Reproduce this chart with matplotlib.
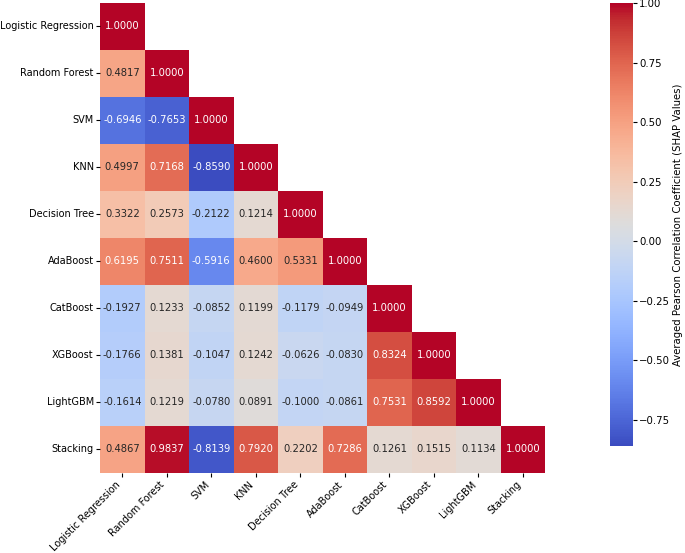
import numpy as np
import matplotlib
matplotlib.use("Agg")
import matplotlib.pyplot as plt
import seaborn as sns

models = ["Logistic Regression", "Random Forest", "SVM", "KNN", "Decision Tree",
          "AdaBoost", "CatBoost", "XGBoost", "LightGBM", "Stacking"]

# lower-triangle rows of the averaged SHAP correlation matrix
row_lr = [1.0000]
row_rf = [0.4817, 1.0000]
row_svm = [-0.6946, -0.7653, 1.0000]
row_knn = [0.4997, 0.7168, -0.8590, 1.0000]
row_dt = [0.3322, 0.2573, -0.2122, 0.1214, 1.0000]
row_ada = [0.6195, 0.7511, -0.5916, 0.4600, 0.5331, 1.0000]
row_cat = [-0.1927, 0.1233, -0.0852, 0.1199, -0.1179, -0.0949, 1.0000]
row_xgb = [-0.1766, 0.1381, -0.1047, 0.1242, -0.0626, -0.0830, 0.8324, 1.0000]
row_lgbm = [-0.1614, 0.1219, -0.0780, 0.0891, -0.1000, -0.0861, 0.7531, 0.8592, 1.0000]
row_stack = [0.4867, 0.9837, -0.8139, 0.7920, 0.2202, 0.7286, 0.1261, 0.1515, 0.1134, 1.0000]

rows = [row_lr, row_rf, row_svm, row_knn, row_dt, row_ada, row_cat, row_xgb, row_lgbm, row_stack]

n = len(models)
corr = np.eye(n)
for i, r in enumerate(rows):
    for j, v in enumerate(r):
        corr[i, j] = v
        corr[j, i] = v

mask = np.triu(np.ones_like(corr, dtype=bool), k=1)

fig = plt.figure(figsize=(6.85, 5.53), dpi=100)
ax = fig.add_axes([0.146, 0.1447, 0.650, 0.850])
cax = fig.add_axes([0.8905, 0.1935, 0.0335, 0.801])

sns.heatmap(corr, mask=mask, cmap="coolwarm", annot=True, fmt=".4f",
            annot_kws={"fontsize": 7.2}, xticklabels=models, yticklabels=models,
            ax=ax, cbar_ax=cax,
            cbar_kws={"label": "Averaged Pearson Correlation Coefficient (SHAP Values)"})

# text colour: white on saturated cells, dark grey elsewhere
for t in ax.texts:
    v = float(t.get_text())
    t.set_color("white" if abs(v) > 0.55 else "#262626")

ax.set_xticklabels(models, rotation=45, ha="right", fontsize=7.0)
ax.set_yticklabels(models, rotation=0, fontsize=7.0)
ax.tick_params(length=3, pad=1.5)
cax.tick_params(labelsize=7.3, length=3, pad=1.5)
cax.set_ylabel("Averaged Pearson Correlation Coefficient (SHAP Values)", fontsize=7.3, labelpad=2)

plt.savefig("out.png", dpi=100)
plt.close()
